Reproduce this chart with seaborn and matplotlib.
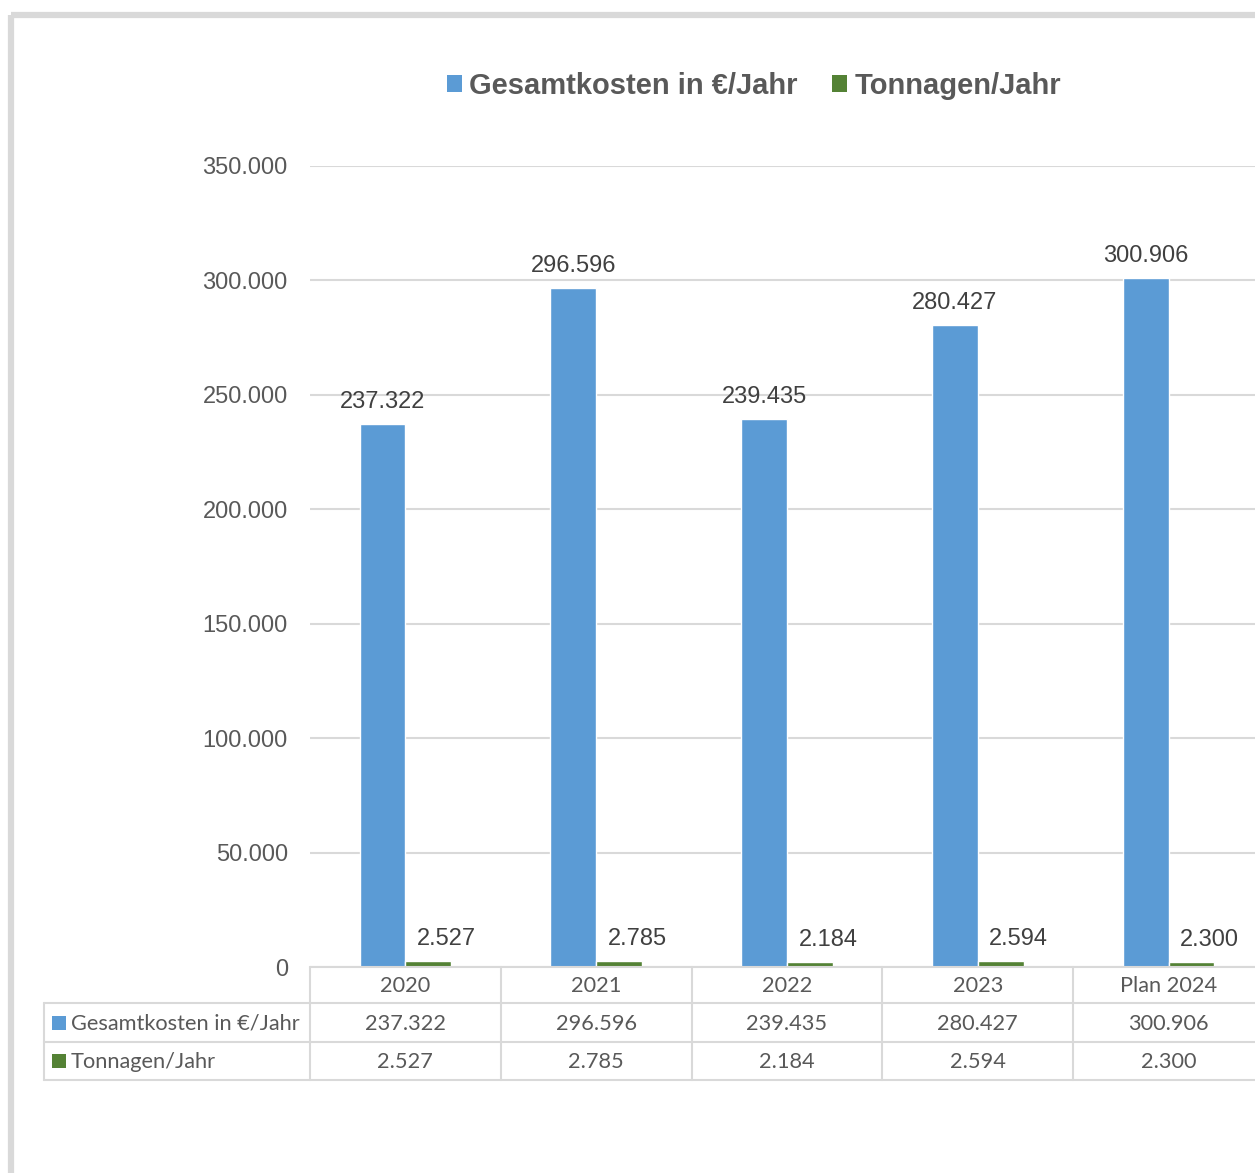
import pandas as pd
import seaborn as sns
import matplotlib.pyplot as plt
from matplotlib.patches import Rectangle, Patch

years = ["2020", "2021", "2022", "2023", "Plan 2024"]
kosten = [237322, 296596, 239435, 280427, 300906]
tonnen = [2527, 2785, 2184, 2594, 2300]
series = ["Gesamtkosten in €/Jahr", "Tonnagen/Jahr"]
colors = ["#5B9BD5", "#548235"]
yticks = [0, 50000, 100000, 150000, 200000, 250000, 300000, 350000]


def de(v):
    return f"{v:,.0f}".replace(",", ".")


df = pd.DataFrame({
    "Jahr": years * 2,
    "Serie": [series[0]] * len(years) + [series[1]] * len(years),
    "Wert": kosten + tonnen,
})

sns.set_style("white")
plt.rcParams["font.family"] = ["Liberation Sans", "DejaVu Sans"]

W, H = 1255, 1173
fig = plt.figure(figsize=(W / 100, H / 100), dpi=100)

# layout in pixels (plot area runs slightly past the right edge)
left, right, top, base = 310, 1264, 166, 967
col_w = (right - left) / len(years)
ax = fig.add_axes([left / W, 1 - base / H, (right - left) / W, (base - top) / H])

sns.barplot(data=df, x="Jahr", y="Wert", hue="Serie", palette=colors,
            width=0.48, gap=0, saturation=1, legend=False, ax=ax)

ax.set_ylim(0, 350000)
ax.set_xlim(-0.5, len(years) - 0.5)
ax.set_yticks(yticks)
ax.set_yticklabels([de(v) for v in yticks])
ax.tick_params(axis="y", length=0, pad=16, labelsize=17, labelcolor="#595959")
ax.tick_params(axis="x", length=0, labelbottom=False)
ax.set_xlabel("")
ax.set_ylabel("")
for s in ax.spines.values():
    s.set_visible(False)
ax.yaxis.grid(True, color="#D9D9D9", lw=1.5)
ax.set_axisbelow(True)

# data labels
for cont, dx in zip(ax.containers, [0, 13]):
    for bar in cont:
        h = bar.get_height()
        ax.annotate(de(h), (bar.get_x() + bar.get_width() / 2, h),
                    xytext=(dx, 11.5), textcoords="offset points",
                    ha="center", va="baseline", fontsize=17, color="#404040")

# legend
handles = [Patch(facecolor=c, edgecolor="none") for c in colors]
leg = fig.legend(handles, series, loc="center", bbox_to_anchor=(754 / W, 1 - 86 / H),
                 ncol=2, frameon=False, handlelength=0.5, handleheight=0.5,
                 handletextpad=0.25, columnspacing=1.2,
                 prop={"size": 21, "weight": "bold"})
for t in leg.get_texts():
    t.set_color("#595959")

# overlay for frame and data table, in pixel coordinates
ov = fig.add_axes([0, 0, 1, 1])
ov.set_xlim(0, W)
ov.set_ylim(H, 0)
ov.axis("off")
ov.patch.set_alpha(0)

ov.add_patch(Rectangle((11, 14.5), W + 50, H + 50, fill=False, ec="#D9D9D9", lw=4.5))

gc = "#D9D9D9"
tleft = 44
rows = [base, 1003, 1042, 1080]
ov.plot([left, right], [rows[0]] * 2, color=gc, lw=1.5)
for yy in rows[1:]:
    ov.plot([tleft, right], [yy] * 2, color=gc, lw=1.5)
ov.plot([tleft, tleft], [rows[1], rows[3]], color=gc, lw=1.5)
for i in range(len(years) + 1):
    xx = left + col_w * i
    ov.plot([xx, xx], [rows[0], rows[3]], color=gc, lw=1.5)

tfont = ["Lato", "DejaVu Sans"]
tc = "#595959"
fs = 15.7
for i, yr in enumerate(years):
    cx = left + col_w * (i + 0.5)
    ov.text(cx, (rows[0] + rows[1]) / 2 + 1.5, yr, ha="center", va="center",
            fontsize=fs, color=tc, family=tfont)
    for r, vals in enumerate([kosten, tonnen]):
        ov.text(cx, (rows[r + 1] + rows[r + 2]) / 2 + 1, de(vals[i]), ha="center",
                va="center", fontsize=fs, color=tc, family=tfont)

for r, (name, c) in enumerate(zip(series, colors)):
    cy = (rows[r + 1] + rows[r + 2]) / 2
    ov.add_patch(Rectangle((52, cy - 7), 14, 14, color=c, lw=0))
    ov.text(71, cy + 1, name, ha="left", va="center", fontsize=fs, color=tc, family=tfont)

fig.savefig("out.png", dpi=100)
